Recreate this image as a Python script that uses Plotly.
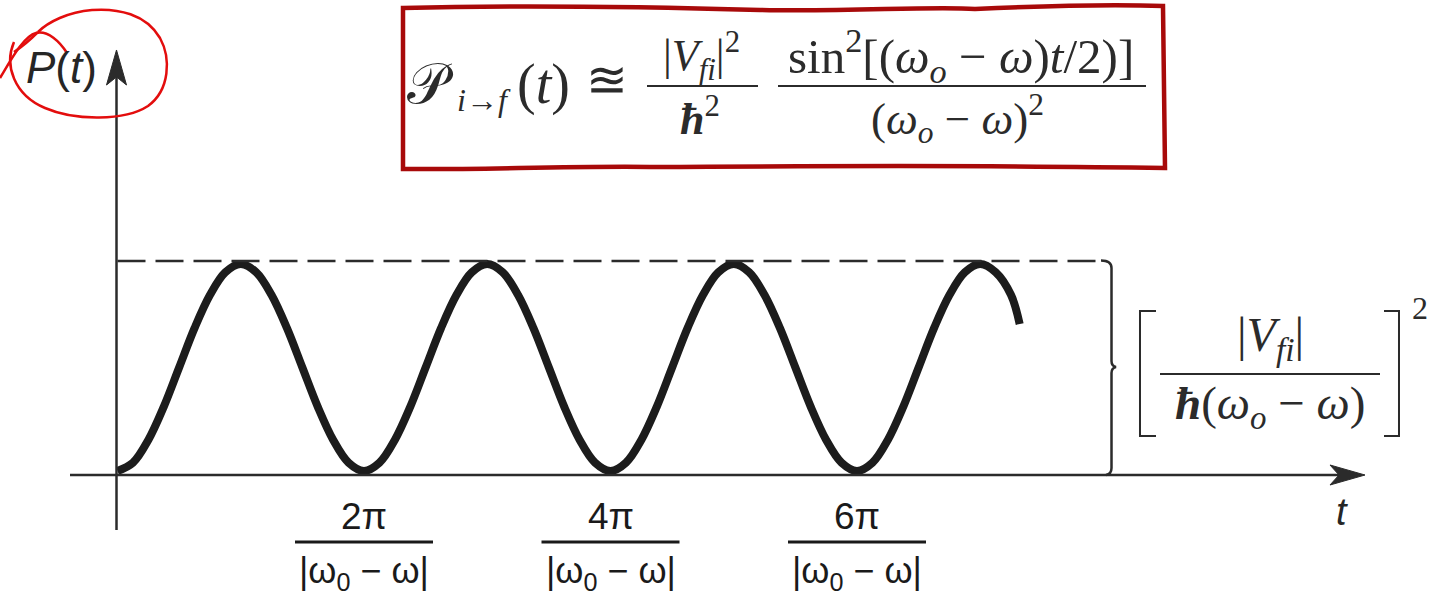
import plotly.graph_objects as go

# Transition probability P(t) sampled every sixteenth of a period,
# t in units of 2π/|ω0−ω|, P in units of [|Vfi| / ħ(ω0−ω)]²
t_periods = [
    0.0, 0.0625, 0.125, 0.1875, 0.25, 0.3125, 0.375, 0.4375,
    0.5, 0.5625, 0.625, 0.6875, 0.75, 0.8125, 0.875, 0.9375,
    1.0, 1.0625, 1.125, 1.1875, 1.25, 1.3125, 1.375, 1.4375,
    1.5, 1.5625, 1.625, 1.6875, 1.75, 1.8125, 1.875, 1.9375,
    2.0, 2.0625, 2.125, 2.1875, 2.25, 2.3125, 2.375, 2.4375,
    2.5, 2.5625, 2.625, 2.6875, 2.75, 2.8125, 2.875, 2.9375,
    3.0, 3.0625, 3.125, 3.1875, 3.25, 3.3125, 3.375, 3.4375,
    3.5, 3.5625, 3.625, 3.66,
]
prob = [
    0.0, 0.04, 0.15, 0.31, 0.5, 0.69, 0.85, 0.96,
    1.0, 0.96, 0.85, 0.69, 0.5, 0.31, 0.15, 0.04,
    0.0, 0.04, 0.15, 0.31, 0.5, 0.69, 0.85, 0.96,
    1.0, 0.96, 0.85, 0.69, 0.5, 0.31, 0.15, 0.04,
    0.0, 0.04, 0.15, 0.31, 0.5, 0.69, 0.85, 0.96,
    1.0, 0.96, 0.85, 0.69, 0.5, 0.31, 0.15, 0.04,
    0.0, 0.04, 0.15, 0.31, 0.5, 0.69, 0.85, 0.96,
    1.0, 0.96, 0.85, 0.71,
]

tick_vals = [1, 2, 3]
tick_numerators = ["2π", "4π", "6π"]
tick_denominator = "|ω<sub>0</sub> − ω|"
peak_level = 1.0

W, H = 1433, 596
X0_PX, X_UNIT = 117.5, 246.5      # pixel of t=0, pixels per period
Y0_PX, Y_UNIT = 471.0, 207.0      # pixel of P=0, pixels per unit


def px(x):
    return x / W


def py(y):
    return 1 - y / H


def data_x(xp):
    return (xp - X0_PX) / X_UNIT


def data_y(yp):
    return (Y0_PX - yp) / Y_UNIT


def ppath(cmds):
    """Build an SVG path in paper coordinates from pixel coordinates."""
    out = []
    for c in cmds:
        if isinstance(c, str):
            out.append(c)
        else:
            out.append(f"{px(c[0]):.5f},{py(c[1]):.5f}")
    return " ".join(out)


INK = "#2b2b2b"
fig = go.Figure()

fig.add_trace(go.Scatter(
    x=t_periods, y=prob, mode="lines",
    line=dict(color="#1c1c1c", width=8, shape="spline", smoothing=1.0),
    hoverinfo="skip", showlegend=False,
))

shapes = []
# dashed maximum level
shapes.append(dict(type="line", xref="x", yref="y",
                   x0=0, x1=data_x(1104), y0=peak_level * 1.015, y1=peak_level * 1.015,
                   line=dict(color=INK, width=2.5, dash="28px,10px")))
# axes
shapes.append(dict(type="line", xref="paper", yref="paper",
                   x0=px(116.5), x1=px(116.5), y0=py(530), y1=py(70),
                   line=dict(color=INK, width=2.5)))
shapes.append(dict(type="line", xref="paper", yref="paper",
                   x0=px(70), x1=px(1345), y0=py(475), y1=py(475),
                   line=dict(color=INK, width=2.5)))
# arrowheads
shapes.append(dict(type="path", xref="paper", yref="paper",
                   path=ppath(["M", (116.5, 50), "L", (126.5, 85), "L", (116.5, 77),
                               "L", (106.5, 85), "Z"]),
                   fillcolor=INK, line=dict(color=INK, width=1)))
shapes.append(dict(type="path", xref="paper", yref="paper",
                   path=ppath(["M", (1365, 475), "L", (1330, 465), "L", (1339, 475),
                               "L", (1330, 485), "Z"]),
                   fillcolor=INK, line=dict(color=INK, width=1)))
# brace at the right of the dashed level
shapes.append(dict(type="path", xref="paper", yref="paper",
                   path=ppath(["M", (1101, 260.5), "Q", (1111.5, 260.5), (1111.5, 268),
                               "L", (1111.5, 361), "Q", (1111.5, 366), (1116, 367),
                               "Q", (1111.5, 368), (1111.5, 373),
                               "L", (1111.5, 468), "Q", (1111.5, 474), (1106, 475)]),
                   line=dict(color=INK, width=2.5)))
# square brackets around the amplitude ratio
shapes.append(dict(type="path", xref="paper", yref="paper",
                   path=ppath(["M", (1156, 311), "L", (1140, 311), "L", (1140, 436),
                               "L", (1156, 436)]),
                   line=dict(color=INK, width=2)))
shapes.append(dict(type="path", xref="paper", yref="paper",
                   path=ppath(["M", (1384, 311), "L", (1399, 311), "L", (1399, 436),
                               "L", (1384, 436)]),
                   line=dict(color=INK, width=2)))
# fraction bars
shapes.append(dict(type="line", xref="paper", yref="paper",
                   x0=px(1160), x1=px(1380), y0=py(374), y1=py(374),
                   line=dict(color=INK, width=2)))
shapes.append(dict(type="line", xref="paper", yref="paper",
                   x0=px(647), x1=px(758), y0=py(86), y1=py(86),
                   line=dict(color=INK, width=2)))
shapes.append(dict(type="line", xref="paper", yref="paper",
                   x0=px(778), x1=px(1146), y0=py(86), y1=py(86),
                   line=dict(color=INK, width=2)))
# tick label fraction bars
for tv in tick_vals:
    shapes.append(dict(type="line", xref="x", yref="paper",
                       x0=tv - 69 / X_UNIT, x1=tv + 69 / X_UNIT, y0=py(542), y1=py(542),
                       line=dict(color="#1a1a1a", width=3)))
# highlight box around the formula
RED_DARK = "#a80a0a"
shapes.append(dict(type="path", xref="paper", yref="paper",
                   path=ppath(["M", (403, 8), "C", (520, 5), (650, 7), (760, 10),
                               "C", (850, 12), (930, 6), (975, 9),
                               "C", (1040, 6), (1110, 4), (1163, 6),
                               "L", (1165, 168),
                               "C", (1000, 165), (800, 166), (650, 167),
                               "C", (560, 166), (480, 170), (403, 169), "Z"]),
                   line=dict(color=RED_DARK, width=4.5)))
# hand-drawn circle around P(t)
RED = "#e30d0d"
shapes.append(dict(type="path", xref="paper", yref="paper",
                   path=ppath(["M", (14, 42), "C", (4, 65), (14, 95), (45, 108),
                               "C", (75, 121), (125, 121), (148, 106),
                               "C", (170, 90), (171, 58), (160, 38),
                               "C", (146, 14), (118, 8), (92, 10),
                               "C", (68, 12), (48, 22), (38, 32)]),
                   line=dict(color=RED, width=2.5)))
shapes.append(dict(type="path", xref="paper", yref="paper",
                   path=ppath(["M", (0, 78), "C", (12, 58), (24, 36), (36, 33),
                               "C", (48, 30), (60, 42), (67, 53)]),
                   line=dict(color=RED, width=2.5)))
shapes.append(dict(type="path", xref="paper", yref="paper",
                   path=ppath(["M", (38, 32), "C", (28, 42), (20, 48), (14, 52)]),
                   line=dict(color=RED, width=2.5)))

annotations = []


def note(text, x, y, size, family="Liberation Serif", color=INK, xanchor="center"):
    annotations.append(dict(text=text, x=px(x), y=py(y), xref="paper", yref="paper",
                            xanchor=xanchor, yanchor="middle", showarrow=False,
                            font=dict(family=family, size=size, color=color)))


SANS = "Liberation Sans, Arial, sans-serif"
SERIF = "Liberation Serif, DejaVu Serif, serif"

# axis labels
note("<i>P</i>(<i>t</i>)", 62, 68, 44, SANS, "#262626")
note("<i>t</i>", 1342, 512, 38, SANS, "#262626")

# tick labels as stacked fractions
for tv, num in zip(tick_vals, tick_numerators):
    annotations.append(dict(text=num, x=tv, y=py(516), xref="x", yref="paper",
                            xanchor="center", yanchor="middle", showarrow=False,
                            font=dict(family=SANS, size=37, color="#1a1a1a")))
    annotations.append(dict(text=tick_denominator, x=tv, y=py(573), xref="x", yref="paper",
                            xanchor="center", yanchor="middle", showarrow=False,
                            font=dict(family=SANS, size=36, color="#1a1a1a")))

# boxed formula
note("𝒫", 430, 84, 56, SERIF)
note("<i>i</i>→<i>f</i>", 484, 100, 32, SERIF)
note("(<i>t</i>)", 543, 84, 56, SERIF)
note("≊", 607, 80, 50, SERIF)
note("|<i>V</i><sub><i>fi</i></sub>|<sup>2</sup>", 701, 56, 44, SERIF)
note("<b><i>ħ</i></b><sup>2</sup>", 700, 116, 44, SERIF)
note("sin<sup>2</sup>[(<i>ω</i><sub><i>o</i></sub> − <i>ω</i>)<i>t</i>/2)]", 961, 56, 49, SERIF)
note("(<i>ω</i><sub><i>o</i></sub> − <i>ω</i>)<sup>2</sup>", 957, 118, 45, SERIF)

# amplitude label next to the brace
note("|<i>V</i><sub><i>fi</i></sub>|", 1270, 338, 48, SERIF)
note("<b><i>ħ</i></b>(<i>ω</i><sub><i>o</i></sub> − <i>ω</i>)", 1270, 406, 47, SERIF)
note("2", 1420, 308, 32, SERIF)

fig.update_layout(
    width=W, height=H, autosize=False,
    margin=dict(l=0, r=0, t=0, b=0),
    paper_bgcolor="white", plot_bgcolor="white",
    xaxis=dict(range=[data_x(0), data_x(W)], visible=False, fixedrange=True),
    yaxis=dict(range=[data_y(H), data_y(0)], visible=False, fixedrange=True),
    shapes=shapes, annotations=annotations, showlegend=False,
)

fig.write_html("out.html")
